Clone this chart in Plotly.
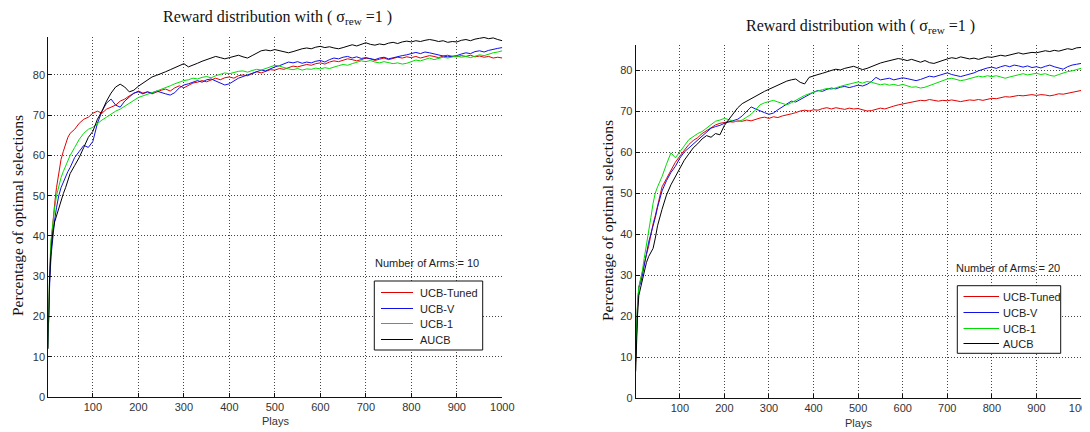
import plotly.graph_objects as go

PLAYS = [1, 3, 5, 8, 12, 16, 20, 25, 30, 35, 40, 45] + list(range(50, 1001, 10))

# ---- left panel : 10 arms ----
arms10_tuned = [
    12, 24, 30, 38, 44, 48, 52, 56, 59, 61, 63, 64.5,
    65.5, 66.5, 68, 69, 69.5, 70.5, 71, 70.5, 71.5, 72,
    72.5, 73.5, 74, 74.8, 75.5, 76, 75.5, 75.8, 75.3, 75.8,
    76.2, 76.5, 76, 76.8, 77.3, 76.8, 77.5, 78, 78.2, 78.6,
    78.3, 78.8, 79.2, 78.8, 79.3, 79.5, 79.2, 79.8, 80, 79.8,
    80.3, 80.8, 80.5, 81, 81.3, 81.2, 81.6, 81.4, 81.8, 82.2,
    82, 82.3, 82.6, 82.4, 82.8, 83, 82.7, 83.2, 83.5, 83.3,
    83.6, 84, 83.8, 83.5, 83.8, 84.2, 84, 83.6, 83.9, 84.2,
    83.8, 84.1, 84.4, 84.2, 84.5, 84.3, 84.6, 84.2, 84.5, 84.8,
    84.6, 84.3, 84.7, 84.9, 84.6, 84.5, 84.8, 84.6, 84.9, 84.5,
    84.7, 84.4, 84.6, 84.2, 84.4, 84.2]
arms10_v = [
    12, 22, 28, 35, 40, 44, 47, 50, 52, 53.5, 55, 56,
    57, 59.5, 61, 62.5, 62, 63.5, 68, 71, 73, 74,
    72.5, 72, 73.5, 74.5, 75.5, 75.8, 75.3, 75.8, 75.5, 76,
    75.6, 75.3, 75, 75.6, 76.8, 77.5, 77.8, 78.3, 78.6, 78.2,
    78.8, 79, 78.5, 78, 77.5, 77.8, 78.6, 79.2, 79.6, 80,
    80.4, 80.8, 81.2, 81, 81.6, 82, 82.3, 82.8, 83.2, 83,
    83.3, 82.9, 83.2, 83, 83.4, 83.6, 83.2, 83.8, 84.2, 84,
    84.4, 84.6, 84.2, 84.5, 84.1, 84.3, 84, 83.8, 84.2, 84.4,
    84, 84.3, 84.6, 84.8, 85, 85.3, 85.6, 85.3, 85.7, 85.5,
    85.2, 84.9, 84.7, 84.5, 84.6, 84.8, 85.2, 85.5, 85.3, 85.8,
    86, 85.7, 86.1, 86.4, 86.6, 86.8]
arms10_ucb1 = [
    12, 25, 32, 39, 44, 47, 50, 52.5, 54.5, 56, 57.5, 59,
    60, 62, 64, 65.5, 66.5, 67, 68, 68.8, 69.5, 70.3,
    71, 71.5, 72.2, 73, 73.8, 74.4, 74.8, 75.3, 75.6, 76,
    76.5, 77, 77.3, 77.8, 78.3, 78.6, 78.8, 79.2, 79, 79.4,
    79.6, 79.3, 79.8, 80.2, 80.5, 80.3, 80.6, 80.9, 81, 80.7,
    81.1, 81.4, 81.2, 81.6, 82, 82.4, 82.2, 81.8, 81.5, 81.3,
    81.6, 81.2, 81.5, 81.4, 81.7, 81.5, 81.8, 81.6, 82, 82.3,
    82.6, 82.4, 82.8, 83.2, 83.5, 83.3, 83.6, 83.2, 83, 83.3,
    83.1, 82.8, 83, 82.7, 82.9, 83.4, 83.7, 83.5, 83.9, 84.2,
    83.8, 84.1, 84.4, 84.2, 84.5, 84.7, 84.4, 84.6, 84.3, 84.7,
    85, 84.8, 85.2, 85.5, 85.7, 86]
arms10_aucb = [
    12, 22, 30, 36, 41, 43.5, 45, 47, 49, 50.5, 52, 54,
    55.5, 57.5, 59.5, 62, 64.5, 66, 69, 71, 73.5, 75.5,
    77, 77.7, 77, 75.8, 76.2, 77.2, 78, 78.8, 79.5, 79.9,
    80.3, 80.8, 81.3, 81.8, 82.5, 82.8, 82, 82.4, 82.9, 83.4,
    83.8, 84.2, 84.6, 84.3, 84, 84.3, 84.6, 84.9, 84.5, 84.2,
    84.8, 85.5, 86, 86.2, 86, 86.3, 86, 85.7, 85.5, 85.8,
    86.2, 86.5, 86.7, 86.5, 86.9, 87.1, 86.8, 87, 86.7, 86.5,
    86.8, 87.2, 87.5, 87.2, 87.7, 88, 87.6, 87.4, 87.7, 87.5,
    87.9, 88.1, 87.8, 88.2, 88.4, 88.2, 88.5, 88.3, 88.6, 88.8,
    88.6, 88.3, 88.5, 88.1, 88.3, 88.2, 88.6, 88.8, 88.5, 88.9,
    89.1, 89.3, 89, 89.2, 88.8, 88.5]

# ---- right panel : 20 arms ----
arms20_tuned = [
    9, 17, 22, 27, 29, 31, 33, 35, 37, 40, 42.5, 44.5,
    47, 51.5, 53.5, 55.5, 57.5, 59, 60.5, 61.8, 62.8, 63.5,
    64.5, 65.2, 66, 66.6, 67, 67.2, 67.4, 67.3, 67.6, 67.5,
    67.8, 67.6, 68, 68.3, 68.5, 68.2, 68.6, 68.4, 68.8, 69,
    69.3, 69.6, 70, 70.2, 70, 70.3, 70.2, 70.6, 70.8, 70.5,
    70.8, 70.6, 70.4, 70.7, 70.5, 70.6, 70.3, 70, 70.1, 70.4,
    70.7, 70.5, 70.9, 71.2, 71.5, 71.7, 72, 72.2, 72.3, 72.6,
    72.5, 72.8, 72.6, 72.4, 72.6, 72.5, 72.7, 72.5, 72.3, 72.5,
    72.7, 72.6, 72.8, 72.6, 72.9, 73.1, 73, 73.3, 73.5, 73.4,
    73.6, 73.8, 73.7, 73.9, 74, 73.8, 74, 73.9, 73.7, 73.9,
    74.2, 74.1, 74.3, 74.5, 74.8, 75]
arms20_v = [
    10, 18, 22, 27, 28, 30, 32, 35, 38, 40, 41.5, 44,
    46.5, 50.5, 53, 55, 56.5, 58.5, 60, 61, 61.8, 63,
    64, 65, 65.8, 66.2, 66.5, 67, 67.3, 67.6, 68, 68.8,
    70, 71, 70.5, 70, 69.6, 69.2, 69.5, 70.3, 71, 71.8,
    72.4, 72.2, 72.8, 73.5, 74.2, 74.6, 75, 74.8, 75.3, 75.6,
    75.4, 75.8, 76, 75.7, 76, 76.3, 76.1, 76.5, 77.2, 78.2,
    77.6, 77.8, 78, 77.6, 77.8, 78.1, 77.9, 77.6, 77.4, 77.7,
    78.2, 78.5, 78.3, 78.6, 79, 79.3, 78.9, 78.6, 78.4, 78.7,
    79, 79.3, 79.8, 80.2, 80.5, 80.7, 80.4, 80.8, 81.1, 80.8,
    81.2, 81, 80.7, 81, 80.6, 80.8, 80.5, 80.9, 81.2, 80.8,
    80.5, 80.2, 80.8, 81.2, 81.4, 81.6]
arms20_ucb1 = [
    10, 18, 23, 27, 29, 31, 34, 37, 41, 44, 47.5, 50,
    51.5, 54, 57, 59.8, 58.6, 60.2, 61.5, 63, 63.8, 64.5,
    65, 65.8, 66.8, 67.5, 67.8, 68.2, 67.9, 67.5, 67.4, 67.8,
    68.5, 69.2, 70.3, 71.5, 72, 72.3, 72.6, 72.2, 71.8, 71.5,
    72, 72.6, 73.3, 73.8, 74.2, 74.6, 74.9, 75.2, 75.5, 75.3,
    75.7, 76, 76.3, 76.6, 76.9, 77.1, 76.8, 77.2, 77, 76.7,
    76.4, 76.6, 76.3, 76.5, 76.2, 76.5, 76.1, 75.8, 75.9, 75.6,
    75.8, 76.2, 76.6, 77, 77.4, 77.8, 78, 77.7, 77.4, 77.6,
    77.9, 78.2, 78.5, 78.3, 78.6, 78.4, 78.6, 78.3, 78, 78.3,
    78.6, 78.9, 79.1, 78.8, 79, 79.2, 78.9, 79.1, 78.7, 78.5,
    78.9, 79.3, 79.6, 79.8, 80.1, 80.4]
arms20_aucb = [
    6.5, 14, 20, 25, 27, 29, 31, 33, 34.5, 35.5, 36.5, 39,
    42, 46, 49.5, 52, 54, 56, 58, 59.5, 61, 62,
    63.2, 64, 63.6, 64.5, 64.2, 66.5, 68, 69.5, 70.8, 71.8,
    72.4, 73.2, 73.8, 74.3, 74.8, 75.3, 75.8, 76.5, 77, 77.3,
    77.6, 77.8, 77, 76.6, 78.2, 78.6, 78.9, 79.2, 79.6, 79.9,
    80.2, 80, 80.4, 80.6, 80.9, 80.5, 80.1, 80.4, 80.9, 81.3,
    81.7, 82, 82.3, 82.5, 82.8, 82.6, 82.3, 82.6, 82.2, 81.9,
    82.3, 81.8, 81.6, 82, 82.4, 82.7, 83, 82.8, 83.2, 83,
    82.7, 82.9, 82.6, 82.9, 83.2, 83.1, 83.4, 83.6, 83.4, 83.7,
    84, 84.2, 83.9, 84.1, 84.3, 84.2, 84.5, 84.7, 84.5, 84.8,
    84.6, 84.9, 85.2, 85, 85.4, 85.5]

NAMES = ["UCB-Tuned", "UCB-V", "UCB-1", "AUCB"]
COLORS = ["#e00000", "#1010e8", "#00dd00", "#000000"]
X_TICKS = [100, 200, 300, 400, 500, 600, 700, 800, 900, 1000]
Y_TICKS = [0, 10, 20, 30, 40, 50, 60, 70, 80]

SANS = "Liberation Sans, Arial, sans-serif"
SERIF = "Liberation Serif, Times New Roman, serif"

# the page body has an 8px margin, so the figure sits at (8, 8) in the window
W, H, OFF = 1082, 424, 8


def px(x):
    return (x - OFF) / W


def py(y):
    return 1 - (y - OFF) / H


fig = go.Figure()

panels = [
    ("x", "y", [arms10_tuned, arms10_v, arms10_ucb1, arms10_aucb]),
    ("x2", "y2", [arms20_tuned, arms20_v, arms20_ucb1, arms20_aucb]),
]
for xa, ya, series in panels:
    for name, ys, col in zip(NAMES, series, COLORS):
        fig.add_trace(go.Scatter(x=PLAYS, y=ys, mode="lines", name=name,
                                 line=dict(color=col, width=1),
                                 xaxis=xa, yaxis=ya, showlegend=False))

axis_common = dict(showline=True, linecolor="#111", linewidth=1, mirror=False,
                   ticks="inside", ticklen=4, tickcolor="#111",
                   showgrid=True, gridcolor="#444", griddash="1px,2px", gridwidth=1,
                   zeroline=False, automargin=False, ticklabeloverflow="allow",
                   tickfont=dict(family=SANS, size=11, color="#333"))

fig.update_layout(
    width=W, height=H,
    template="none",
    paper_bgcolor="white", plot_bgcolor="white",
    margin=dict(l=0, r=0, t=0, b=0),
    showlegend=False,
    xaxis=dict(domain=[px(48.3), px(502.3)], range=[2, 1000], tickvals=X_TICKS,
               anchor="y", **axis_common),
    yaxis=dict(domain=[py(397), py(36.7)], range=[0, 89.5], tickvals=Y_TICKS,
               anchor="x", **axis_common),
    xaxis2=dict(domain=[px(635.7), px(1081)], range=[1, 1000], tickvals=X_TICKS,
                anchor="y2", **axis_common),
    yaxis2=dict(domain=[py(398), py(45)], range=[0, 86.1], tickvals=Y_TICKS,
                anchor="x2", **axis_common),
)

title_txt = "Reward distribution with ( σ<sub>rew</sub> =1 )"
ylab = "Percentage of optimal selections"
notes = [
    dict(x=px(277), y=py(17), text=title_txt, font=dict(family=SERIF, size=16, color="#111")),
    dict(x=px(860), y=py(26), text=title_txt, font=dict(family=SERIF, size=16, color="#111")),
    dict(x=px(17), y=py(216), text=ylab, textangle=-90, font=dict(family=SERIF, size=15.5, color="#111")),
    dict(x=px(607), y=py(221), text=ylab, textangle=-90, font=dict(family=SERIF, size=15.5, color="#111")),
    dict(x=px(275), y=py(421), text="Plays", font=dict(family=SANS, size=11, color="#333")),
    dict(x=px(858), y=py(423), text="Plays", font=dict(family=SANS, size=11, color="#333")),
    dict(x=px(427), y=py(263), text="Number of Arms = 10", font=dict(family=SANS, size=11, color="#222")),
    dict(x=px(1008), y=py(268), text="Number of Arms = 20", font=dict(family=SANS, size=11, color="#222")),
]
for a in notes:
    fig.add_annotation(xref="paper", yref="paper", showarrow=False,
                       xanchor="center", yanchor="middle", **a)

# MATLAB-style legend boxes (left, top, right, bottom, first row, row step, line x0, x1, text x)
legend_boxes = [
    (374.3, 281, 482.7, 350, 291.7, 15.8, 381, 413, 418),
    (957.3, 285.7, 1060.7, 353.3, 296, 15.8, 963.5, 999, 1001),
]
for x0, y0, x1, y1, r0, dr, l0, l1, tx in legend_boxes:
    fig.add_shape(type="rect", xref="paper", yref="paper",
                  x0=px(x0), x1=px(x1), y0=py(y1), y1=py(y0),
                  line=dict(color="#111", width=1), fillcolor="white", layer="above")
    for i, (name, col) in enumerate(zip(NAMES, COLORS)):
        yy = round(r0 + i * dr) + 0.5
        fig.add_shape(type="line", xref="paper", yref="paper",
                      x0=px(l0), x1=px(l1), y0=py(yy), y1=py(yy),
                      line=dict(color=col, width=1), layer="above")
        fig.add_annotation(xref="paper", yref="paper", showarrow=False,
                           x=px(tx), y=py(yy), xanchor="left", yanchor="middle",
                           text=name, font=dict(family=SANS, size=11, color="#222"))

fig.write_html("out.html")
